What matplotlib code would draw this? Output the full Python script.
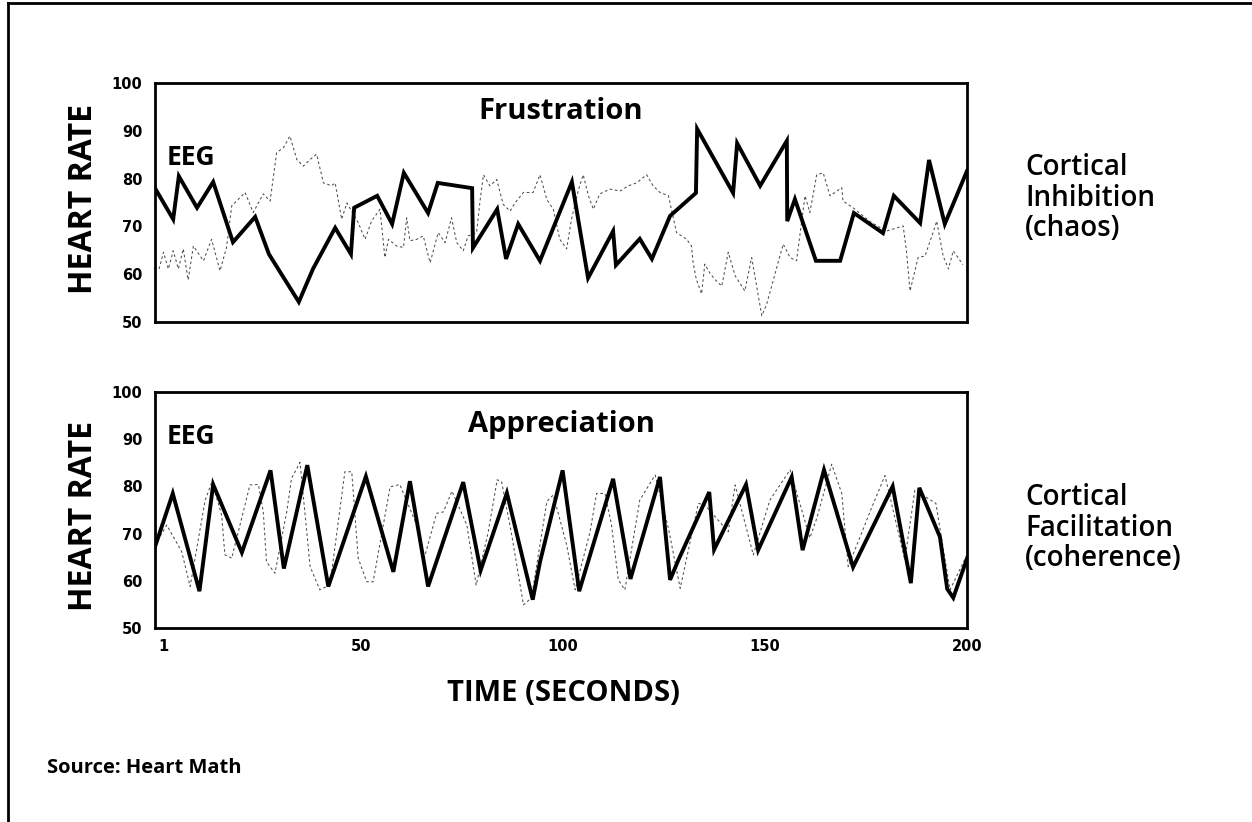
import matplotlib
matplotlib.use("Agg")
import matplotlib.pyplot as plt
from matplotlib.lines import Line2D

# ---------------- data ----------------
# Frustration panel: heart rate (thick) and EEG (thin dotted)
frus_hr_t = [-1, 3.5, 4.9, 9.4, 13.4, 18.3, 23.8, 27.2, 34.6, 38.1, 43.6, 47.5, 48.3, 54.0,
             57.7, 60.6, 66.6, 69.0, 77.5, 77.7, 83.7, 85.9, 88.9, 94.3, 102.2, 106.2, 112.4,
             113.1, 119.0, 122.0, 126.5, 132.9, 133.2, 142.1, 143.1, 148.8, 155.4, 155.5,
             157.4, 162.6, 168.6, 172.0, 179.2, 181.9, 188.4, 190.6, 194.5, 200]
frus_hr_v = [78.0, 71.5, 80.5, 73.9, 79.3, 66.7, 72.0, 64.2, 54.2, 61.1, 69.7, 64.2, 73.9, 76.4,
             70.5, 81.2, 72.8, 79.1, 78.0, 65.5, 73.6, 63.2, 70.5, 62.8, 79.3, 59.2, 69.0,
             61.9, 67.4, 63.2, 72.2, 77.0, 90.4, 77.0, 87.4, 78.5, 87.9, 71.1,
             75.7, 62.8, 62.8, 72.8, 68.6, 76.4, 70.7, 83.9, 70.5, 81.6]

frus_eeg_t = [0, 1.1, 2.3, 3.5, 4.8, 6.0, 7.2, 8.5, 11.0, 13.0, 15.1, 16.7, 18.0, 21.3, 23.3,
              25.8, 27.5, 29.1, 30.8, 32.4, 34.1, 35.7, 37.4, 39.0, 40.7, 42.7, 43.6, 45.2,
              46.5, 49.3, 51.0, 52.6, 54.7, 55.9, 56.8, 58.8, 60.5, 61.3, 62.1, 63.8, 65.4,
              67.1, 69.1, 70.8, 72.4, 73.7, 75.3, 76.5, 78.6, 79.4, 80.3, 81.9, 83.6, 85.2,
              86.9, 88.1, 90.2, 92.6, 94.3, 96.0, 97.6, 99.2, 100.9, 102.1, 103.8, 105.0,
              106.3, 107.5, 109.1, 111.6, 114.1, 116.2, 118.2, 120.7, 122.3, 124.0, 126.1,
              128.1, 130.6, 131.8, 132.2, 133.0, 134.3, 135.1, 136.3, 137.6, 139.3, 140.9,
              142.6, 145.0, 146.7, 149.2, 150.4, 154.5, 156.2, 157.8, 159.9, 161.1, 162.8,
              164.4, 166.1, 169.0, 169.3, 171.8, 176.0, 180.0, 184.2, 185.0, 185.9, 187.9,
              189.6, 191.6, 192.5, 194.1, 195.4, 196.6, 199.0]
frus_eeg_v = [61.1, 64.6, 61.1, 64.9, 61.1, 65.3, 58.8, 65.9, 62.8, 67.3, 60.7, 65.6, 74.3, 77.1, 72.9,
              76.8, 75.3, 85.4, 86.5, 88.9, 84.0, 82.6, 84.0, 85.1, 79.1, 78.5, 79.1, 71.5,
              74.9, 70.8, 67.3, 71.1, 73.6, 63.5, 67.3, 65.9, 65.6, 71.8, 67.0, 67.3, 68.0,
              62.4, 68.7, 66.6, 71.8, 66.6, 64.9, 68.0, 68.7, 74.9, 80.8, 78.5, 79.8, 74.6,
              73.2, 74.9, 77.1, 77.1, 80.8, 75.6, 73.6, 67.3, 65.3, 71.5, 77.6, 80.8,
              76.4, 73.6, 76.8, 77.8, 77.4, 78.5, 79.1, 80.8, 78.5, 77.1, 76.4,
              68.7, 67.3, 65.9, 62.4, 58.9, 55.9, 62.1, 60.3, 58.9, 57.5, 64.6,
              59.7, 56.5, 63.5, 51.3, 53.7, 66.3, 63.5, 62.8, 76.4, 72.9, 80.8,
              81.2, 76.4, 78.1, 75.3, 73.9, 71.0, 69.0, 70.1, 64.9, 56.5, 63.5,
              63.8, 68.7, 71.1, 63.8, 61.1, 64.9, 62.0]

# Appreciation panel
appr_hr_t = [-1, 3.4, 10.0, 13.4, 20.5, 27.6, 30.9, 36.7, 41.9, 51.2, 58.0, 62.1, 66.6, 75.3,
             79.6, 86.1, 92.5, 94.3, 99.9, 104.0, 112.4, 116.7, 124.0, 126.5, 128.5, 136.2,
             137.4, 145.3, 148.3, 156.6, 159.3, 164.6, 171.8, 181.6, 186.1, 188.2, 193.3,
             195.1, 196.6, 200]
appr_hr_v = [67.2, 78.5, 57.8, 80.4, 66.0, 83.4, 62.6, 84.5, 58.8, 82.1, 61.9, 81.1, 58.8, 80.9,
             62.2, 78.6, 56.0, 64.0, 83.4, 57.8, 81.6, 60.4, 82.0, 60.2, 64.3, 78.8,
             66.6, 80.4, 66.5, 82.0, 66.5, 83.5, 62.9, 80.0, 59.5, 79.7, 69.3,
             58.3, 56.4, 64.7]

appr_eeg_t = [-1, 1.9, 5.6, 7.7, 11.4, 13.1, 15.5, 16.3, 18.0, 22.5, 24.6, 25.8, 26.6, 28.7,
              31.6, 32.8, 34.9, 37.4, 39.8, 42.3, 46.0, 47.7, 49.3, 51.4, 53.0, 57.2, 59.6,
              63.8, 65.4, 68.7, 70.4, 72.5, 76.2, 78.5, 81.5, 83.7, 84.8, 87.3, 90.2, 92.2,
              96.0, 97.6, 100.9, 103.0, 106.7, 108.3, 110.4, 112.0, 113.7, 115.3, 119.0,
              122.8, 126.1, 129.0, 133.5, 135.1, 140.9, 142.6, 147.1, 151.2, 156.2, 161.1,
              162.8, 166.5, 169.0, 170.6, 176.4, 179.7, 184.6, 187.1, 192.3, 192.9, 195.8,
              200]
appr_eeg_v = [67.6, 71.8, 66.2, 58.8, 77.0, 81.0, 73.9, 65.5, 64.8, 80.3, 80.4, 74.6, 64.0, 61.6,
              74.6, 81.7, 85.1, 63.0, 58.1, 59.1, 83.1, 83.1, 64.8, 59.8, 59.8, 79.9, 80.4,
              71.8, 64.0, 74.3, 74.6, 79.0, 71.8, 59.1, 70.4, 81.4, 81.0, 69.7, 54.9, 56.4,
              76.8, 78.2, 67.6, 58.1, 70.4, 78.5, 78.5, 71.8, 60.2, 58.1, 77.1,
              82.4, 71.1, 58.4, 76.4, 76.1, 70.4, 80.3, 65.5, 77.1, 83.5, 69.1,
              73.2, 84.7, 78.5, 63.0, 75.5, 82.3, 64.4, 79.2, 76.4, 73.2, 58.1,
              65.5]

x_ticks = [1, 50, 100, 150, 200]
y_ticks = [50, 60, 70, 80, 90, 100]

# ---------------- figure ----------------
W, H = 1252, 822
fig = plt.figure(figsize=(W / 100, H / 100), dpi=100)
fig.patch.set_facecolor("white")

TXT = ["Open Sans", "DejaVu Sans"]
NUM = ["DejaVu Sans"]


def fx(px):
    return px / W


def fy(py):
    return 1 - py / H


def make_panel(top_px, bot_px, hr_t, hr_v, eeg_t, eeg_v, title, title_y, eeg_y, show_xlabels):
    ax = fig.add_axes([fx(155), fy(bot_px), fx(967) - fx(155), fy(top_px) - fy(bot_px)])
    ax.plot(eeg_t, eeg_v, color="0.3", lw=0.75, ls=(0, (2.5, 2.5)), zorder=2)
    ax.plot(hr_t, hr_v, color="black", lw=2.8, solid_joinstyle="miter", zorder=3)
    ax.set_xlim(-1, 200)
    ax.set_ylim(50, 100)
    ax.set_yticks(y_ticks)
    ax.set_xticks(x_ticks)
    for s in ax.spines.values():
        s.set_linewidth(2.0)
        s.set_color("black")
    ax.tick_params(axis="both", length=0, pad=9)
    for lab in ax.get_yticklabels():
        lab.set_fontfamily(NUM)
        lab.set_fontweight("bold")
        lab.set_fontsize(10.5)
    if show_xlabels:
        ax.set_xticklabels([str(v) for v in x_ticks])
        for lab in ax.get_xticklabels():
            lab.set_fontfamily(NUM)
            lab.set_fontweight("bold")
            lab.set_fontsize(10.5)
        ax.tick_params(axis="x", pad=8)
    else:
        ax.set_xticklabels([])
    ax.text(0.5, title_y, title, transform=ax.transAxes, ha="center", va="center",
            fontsize=21, fontweight="bold", family=TXT)
    ax.text(0.014, eeg_y, "EEG", transform=ax.transAxes, ha="left", va="center",
            fontsize=19, fontweight="bold", family=TXT)
    return ax


ax1 = make_panel(83, 322, frus_hr_t, frus_hr_v, frus_eeg_t, frus_eeg_v,
                 "Frustration", 0.879, 0.69, False)
ax2 = make_panel(392, 628, appr_hr_t, appr_hr_v, appr_eeg_t, appr_eeg_v,
                 "Appreciation", 0.864, 0.81, True)

# y-axis titles
for yc in (199, 516):
    fig.text(fx(83), fy(yc), "HEART RATE", rotation=90, ha="center", va="center",
             fontsize=23, fontweight="bold", family=TXT)

# right-hand annotations
fig.text(fx(1025), fy(198), "Cortical\nInhibition\n(chaos)", ha="left", va="center",
         fontsize=20, fontweight="semibold", family=TXT, linespacing=1.08)
fig.text(fx(1025), fy(528), "Cortical\nFacilitation\n(coherence)", ha="left", va="center",
         fontsize=20, fontweight="semibold", family=TXT, linespacing=1.08)

fig.text(fx(563), fy(693), "TIME (SECONDS)", ha="center", va="center",
         fontsize=21, fontweight="bold", family=TXT)
fig.text(fx(47), fy(768), "Source: Heart Math", ha="left", va="center",
         fontsize=14.5, fontweight="bold", family=TXT)

# outer frame (top and left edges)
fig.add_artist(Line2D([fx(8), 1.0], [fy(3.5), fy(3.5)], transform=fig.transFigure,
                      color="black", lw=2.0))
fig.add_artist(Line2D([fx(8), fx(8)], [fy(3.5), 0.0], transform=fig.transFigure,
                      color="black", lw=2.0))

fig.savefig("out.png", dpi=100, facecolor="white")
